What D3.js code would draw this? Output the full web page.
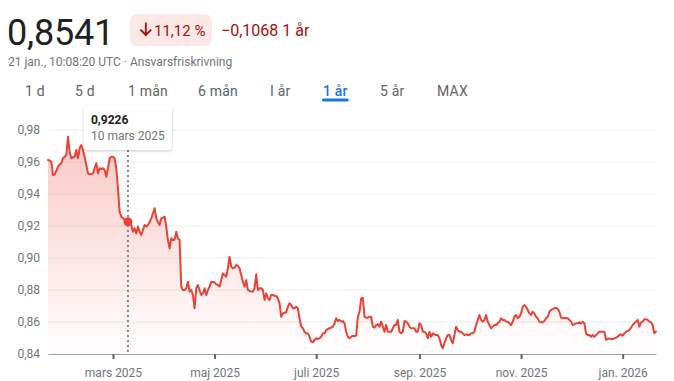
<!DOCTYPE html>
<html>
<head>
<meta charset="utf-8">
<script src="https://cdn.jsdelivr.net/npm/d3@7"></script>
<style>
  html, body { margin: 0; padding: 0; background: #fff; }
  svg { display: block; font-family: Roboto, "Noto Sans", Arial, sans-serif; }
</style>
</head>
<body>
<svg id="chart" width="674" height="381"></svg>
<script>
// ---------- data ----------
const startDate = "2025-01-21";          // first point (one value per calendar day)
const values = [
0.9613,0.9610,0.9602,0.9519,0.9523,0.9545,0.9571,0.9585,0.9592,0.9623,
0.9633,0.9644,0.9758,0.9664,0.9623,0.9630,0.9633,0.9675,0.9623,0.9686,
0.9706,0.9675,0.9633,0.9581,0.9529,0.9523,0.9526,0.9529,0.9561,0.9592,
0.9529,0.9561,0.9556,0.9561,0.9550,0.9508,0.9561,0.9623,0.9633,0.9633,
0.9623,0.9561,0.9436,0.9290,0.9258,0.9250,0.9238,0.9231,0.9226,0.9215,
0.9206,0.9164,0.9186,0.9154,0.9196,0.9164,0.9144,0.9175,0.9206,0.9196,
0.9206,0.9225,0.9248,0.9279,0.9311,0.9248,0.9225,0.9206,0.9248,0.9252,
0.9258,0.9196,0.9112,0.9060,0.9123,0.9113,0.9113,0.9164,0.9123,0.9113,
0.8821,0.8800,0.8800,0.8811,0.8852,0.8790,0.8800,0.8769,0.8686,0.8811,
0.8831,0.8800,0.8769,0.8779,0.8811,0.8769,0.8800,0.8821,0.8852,0.8850,
0.8848,0.8835,0.8831,0.8821,0.8863,0.8904,0.8894,0.8883,0.8936,0.9008,
0.8946,0.8936,0.8940,0.8956,0.8952,0.8936,0.8894,0.8852,0.8821,0.8863,
0.8800,0.8794,0.8790,0.8790,0.8811,0.8898,0.8800,0.8811,0.8811,0.8800,
0.8738,0.8779,0.8750,0.8738,0.8769,0.8769,0.8763,0.8763,0.8748,0.8717,
0.8633,0.8654,0.8658,0.8661,0.8696,0.8717,0.8706,0.8686,0.8686,0.8696,
0.8686,0.8623,0.8571,0.8561,0.8539,0.8529,0.8529,0.8508,0.8477,0.8473,
0.8488,0.8498,0.8494,0.8498,0.8508,0.8529,0.8529,0.8550,0.8556,0.8561,
0.8565,0.8571,0.8592,0.8623,0.8606,0.8613,0.8602,0.8606,0.8592,0.8539,
0.8508,0.8498,0.8508,0.8514,0.8512,0.8514,0.8633,0.8664,0.8748,0.8752,
0.8633,0.8627,0.8627,0.8633,0.8633,0.8571,0.8565,0.8581,0.8586,0.8571,
0.8602,0.8571,0.8539,0.8581,0.8539,0.8539,0.8539,0.8561,0.8581,0.8581,
0.8613,0.8539,0.8529,0.8539,0.8606,0.8602,0.8592,0.8571,0.8561,0.8561,
0.8561,0.8539,0.8539,0.8592,0.8581,0.8539,0.8539,0.8529,0.8498,0.8539,
0.8508,0.8529,0.8523,0.8519,0.8519,0.8498,0.8456,0.8436,0.8467,0.8498,
0.8519,0.8519,0.8488,0.8467,0.8519,0.8571,0.8550,0.8539,0.8539,0.8529,
0.8519,0.8523,0.8519,0.8519,0.8529,0.8529,0.8539,0.8581,0.8613,0.8644,
0.8613,0.8602,0.8613,0.8644,0.8602,0.8581,0.8561,0.8571,0.8581,0.8581,
0.8592,0.8602,0.8623,0.8613,0.8613,0.8602,0.8602,0.8592,0.8581,0.8602,
0.8633,0.8644,0.8623,0.8633,0.8654,0.8696,0.8706,0.8696,0.8675,0.8654,
0.8644,0.8664,0.8654,0.8633,0.8623,0.8602,0.8598,0.8598,0.8606,0.8623,
0.8633,0.8664,0.8675,0.8681,0.8686,0.8689,0.8681,0.8664,0.8627,0.8623,
0.8627,0.8623,0.8623,0.8613,0.8602,0.8581,0.8586,0.8592,0.8592,0.8598,
0.8592,0.8602,0.8592,0.8529,0.8519,0.8519,0.8508,0.8519,0.8508,0.8519,
0.8529,0.8539,0.8539,0.8539,0.8539,0.8488,0.8494,0.8498,0.8494,0.8494,
0.8498,0.8502,0.8508,0.8519,0.8523,0.8514,0.8529,0.8539,0.8544,0.8550,
0.8565,0.8581,0.8592,0.8602,0.8613,0.8571,0.8598,0.8602,0.8617,0.8617,
0.8613,0.8602,0.8598,0.8581,0.8529,0.8541
];
const yTicks = [0.84, 0.86, 0.88, 0.90, 0.92, 0.94, 0.96, 0.98];
const xTickDates = ["2025-03-01","2025-05-01","2025-07-01","2025-09-01","2025-11-01","2026-01-01"];
const xTickLabels = ["mars 2025","maj 2025","juli 2025","sep. 2025","nov. 2025","jan. 2026"];
const tabs = ["1 d","5 d","1 mån","6 mån","I år","1 år","5 år","MAX"];
const selectedTab = "1 år";
const priceText = "0,8541";
const changePct = "11,12 %";
const changeAbs = "−0,1068 1 år";
const subtitle = "21 jan., 10:08:20 UTC · Ansvarsfriskrivning";
const hoverDate = "2025-03-10";
const hoverValue = 0.9226;
const hoverLabel = "10 mars 2025";

// ---------- setup ----------
const parse = d3.timeParse("%Y-%m-%d");
const t0 = parse(startDate);
const data = values.map((v, i) => ({ date: d3.timeDay.offset(t0, i), value: v }));

const svg = d3.select("#chart");
const plot = { left: 48, right: 656, top: 130, bottom: 354 };

const x = d3.scaleTime()
  .domain([data[0].date, data[data.length - 1].date])
  .range([plot.left, plot.right]);
const y = d3.scaleLinear()
  .domain([yTicks[0], yTicks[yTicks.length - 1]])
  .range([plot.bottom, plot.top]);

const fmt = v => d3.format(".2f")(v).replace(".", ",");
const fmt4 = v => d3.format(".4f")(v).replace(".", ",");

// ---------- header ----------
svg.append("text").attr("x", 7).attr("y", 45)
  .attr("font-size", 36).attr("fill", "#202124").attr("letter-spacing", "-0.2")
  .text(priceText);

svg.append("rect").attr("x", 130).attr("y", 14).attr("width", 82).attr("height", 32)
  .attr("rx", 7).attr("fill", "#fce8e6");
// down-arrow icon
svg.append("path")
  .attr("d", "M145.8,23.5 V35 M141,30.2 L145.8,35 L150.6,30.2")
  .attr("fill", "none").attr("stroke", "#a50e0e").attr("stroke-width", 1.8)
  .attr("stroke-linecap", "square");
svg.append("text").attr("x", 154).attr("y", 35.5)
  .attr("font-size", 15).attr("fill", "#a50e0e")
  .text(changePct);
svg.append("text").attr("x", 221).attr("y", 35.5)
  .attr("font-size", 16).attr("fill", "#a50e0e")
  .text(changeAbs);

svg.append("text").attr("x", 8).attr("y", 66)
  .attr("font-size", 12).attr("fill", "#70757a")
  .text(subtitle);

// tabs
const tabX = [25, 75, 128, 198, 270, 323, 380, 437];
const tabG = svg.append("g");
tabs.forEach((t, i) => {
  const sel = t === selectedTab;
  const tx = tabG.append("text").attr("x", tabX[i]).attr("y", 95.5)
    .attr("font-size", 14).attr("fill", sel ? "#1a73e8" : "#5f6368")
    .attr("font-weight", sel ? 500 : 400).attr("letter-spacing", "0.2")
    .text(t);
  if (sel) {
    const w = tx.node().getComputedTextLength();
    tabG.append("rect").attr("x", tabX[i] - 1).attr("y", 98.5)
      .attr("width", w + 2).attr("height", 3).attr("rx", 1.5).attr("fill", "#1a73e8");
  }
});

// ---------- gradient ----------
const defs = svg.append("defs");
const grad = defs.append("linearGradient").attr("id", "areaGrad")
  .attr("gradientUnits", "userSpaceOnUse")
  .attr("x1", 0).attr("x2", 0).attr("y1", plot.top).attr("y2", plot.bottom);
grad.append("stop").attr("offset", "0%").attr("stop-color", "#ea4335").attr("stop-opacity", 0.3);
grad.append("stop").attr("offset", "100%").attr("stop-color", "#ea4335").attr("stop-opacity", 0.0);

const shadow = defs.append("filter").attr("id", "shadow")
  .attr("x", "-20%").attr("y", "-30%").attr("width", "140%").attr("height", "170%");
shadow.append("feDropShadow").attr("dx", 0).attr("dy", 1).attr("stdDeviation", 1.5)
  .attr("flood-color", "#3c4043").attr("flood-opacity", 0.3);

// ---------- grid ----------
svg.append("g").selectAll("line").data(yTicks.slice(1)).join("line")
  .attr("x1", plot.left).attr("x2", plot.right)
  .attr("y1", d => y(d)).attr("y2", d => y(d))
  .attr("stroke", "#ececec").attr("stroke-width", 1);

// y axis labels
const yAxis = svg.append("g").attr("transform", `translate(${plot.left},0)`)
  .call(d3.axisLeft(y).tickValues(yTicks).tickFormat(fmt).tickSize(0).tickPadding(8));
yAxis.select(".domain").remove();
yAxis.selectAll("text").attr("font-size", 12).attr("fill", "#70757a")
  .attr("font-family", "Roboto, 'Noto Sans', Arial, sans-serif");

// ---------- area + line ----------
const area = d3.area().x(d => x(d.date)).y0(plot.bottom).y1(d => y(d.value));
svg.append("path").datum(data).attr("d", area).attr("fill", "url(#areaGrad)");

const line = d3.line().x(d => x(d.date)).y(d => y(d.value));
svg.append("path").datum(data).attr("d", line)
  .attr("fill", "none").attr("stroke", "#ea4335").attr("stroke-width", 2)
  .attr("stroke-linejoin", "round").attr("stroke-linecap", "round");

// ---------- x axis ----------
const xAxis = svg.append("g").attr("transform", `translate(0,${plot.bottom})`)
  .call(d3.axisBottom(x).tickValues(xTickDates.map(parse))
    .tickFormat((d, i) => xTickLabels[i]).tickSize(5).tickSizeOuter(0).tickPadding(9));
xAxis.select(".domain").attr("stroke", "#9aa0a6").attr("stroke-width", 1.2);
xAxis.selectAll(".tick line").attr("stroke", "#5f6368").attr("stroke-width", 2);
xAxis.selectAll("text").attr("font-size", 12).attr("fill", "#70757a")
  .attr("font-family", "Roboto, 'Noto Sans', Arial, sans-serif");

// ---------- hover ----------
const hx = x(parse(hoverDate));
const hy = y(hoverValue);
svg.append("line").attr("x1", hx).attr("x2", hx).attr("y1", 150).attr("y2", plot.bottom)
  .attr("stroke", "#80868b").attr("stroke-width", 2).attr("stroke-dasharray", "2,3");
svg.append("circle").attr("cx", hx).attr("cy", hy).attr("r", 4.5).attr("fill", "#ea4335");

const tip = svg.append("g").attr("transform", `translate(${hx - 44},106)`);
tip.append("rect").attr("width", 88).attr("height", 44).attr("rx", 4)
  .attr("fill", "#fff").attr("filter", "url(#shadow)");
tip.append("text").attr("x", 7).attr("y", 18).attr("font-size", 12)
  .attr("font-weight", 700).attr("fill", "#202124").text(fmt4(hoverValue));
tip.append("text").attr("x", 7).attr("y", 34).attr("font-size", 12)
  .attr("fill", "#70757a").text(hoverLabel);
</script>
</body>
</html>
